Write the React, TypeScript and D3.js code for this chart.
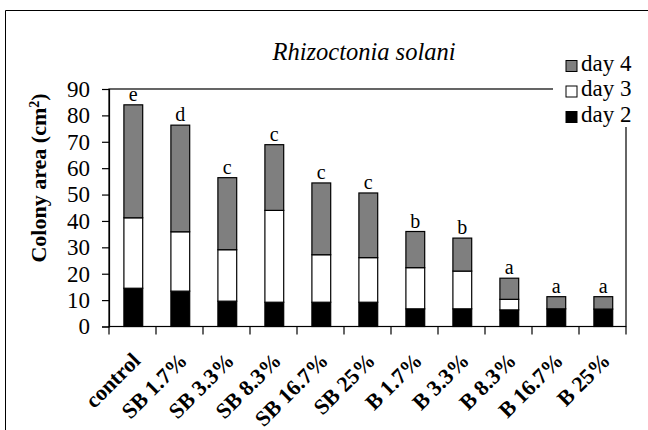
import { useEffect, useRef } from "react";
import * as d3 from "d3";

// treatments along the x axis
const categories = [
  "control",
  "SB 1.7%",
  "SB 3.3%",
  "SB 8.3%",
  "SB 16.7%",
  "SB 25%",
  "B 1.7%",
  "B 3.3%",
  "B 8.3%",
  "B 16.7%",
  "B 25%",
];

// stacked segment heights (cm²)
const day2 = [14.5, 13.4, 9.6, 9.2, 9.2, 9.2, 6.7, 6.7, 6.3, 6.7, 6.6];
const day3 = [26.7, 22.5, 19.5, 34.8, 18.0, 16.9, 15.6, 14.3, 4.0, 0, 0];
const day4 = [42.8, 40.4, 27.3, 24.9, 27.2, 24.5, 13.7, 12.5, 8.0, 4.6, 4.7];

const letters = ["e", "d", "c", "c", "c", "c", "b", "b", "a", "a", "a"];

const yTicks = [0, 10, 20, 30, 40, 50, 60, 70, 80, 90];

const seriesKeys = ["day2", "day3", "day4"];
const seriesColors: Record<string, string> = {
  day2: "#000000",
  day3: "#ffffff",
  day4: "#7f7f7f",
};
const legendItems = [
  { key: "day4", label: "day 4" },
  { key: "day3", label: "day 3" },
  { key: "day2", label: "day 2" },
];

export default function App() {
  const svgRef = useRef<SVGSVGElement>(null);

  useEffect(() => {
    if (!svgRef.current) return;
    const svg = d3.select(svgRef.current);
    svg.selectAll("*").remove();

    const width = 648;
    const height = 430;
    const font = "Liberation Serif";
    const left = 109;
    const right = 626;
    const top = 89;
    const bottom = 326.5;

    svg.attr("width", width).attr("height", height);

    // outer frame (top and left edges only are visible)
    svg
      .append("path")
      .attr("d", `M5.5,${height} V10.5 H${width}`)
      .attr("fill", "none")
      .attr("stroke", "#000")
      .attr("stroke-width", 1);

    const x = d3
      .scaleBand()
      .domain(categories)
      .range([left, right])
      .paddingInner(0.6)
      .paddingOuter(0.3);

    const y = d3.scaleLinear().domain([0, 90]).range([bottom, top]);

    const table = categories.map((c, i) => ({
      cat: c,
      day2: day2[i],
      day3: day3[i],
      day4: day4[i],
    }));
    const stacked = d3.stack<any>().keys(seriesKeys)(table);

    // plot box
    svg
      .append("rect")
      .attr("x", left)
      .attr("y", top)
      .attr("width", right - left)
      .attr("height", bottom - top)
      .attr("fill", "none")
      .attr("stroke", "#000")
      .attr("stroke-width", 1.2);

    // bars
    svg
      .append("g")
      .selectAll("g")
      .data(stacked)
      .join("g")
      .attr("fill", (s) => seriesColors[s.key])
      .selectAll("rect")
      .data((s) => s.filter((d) => d[1] - d[0] > 0))
      .join("rect")
      .attr("x", (d) => (x(d.data.cat) as number) + 0.8)
      .attr("y", (d) => y(d[1]))
      .attr("width", x.bandwidth())
      .attr("height", (d) => y(d[0]) - y(d[1]))
      .attr("stroke", "#000")
      .attr("stroke-width", 1.2);

    // significance letters
    svg
      .append("g")
      .selectAll("text")
      .data(table)
      .join("text")
      .attr("x", (d) => (x(d.cat) as number) + 0.8 + x.bandwidth() / 2)
      .attr("y", (d) => y(d.day2 + d.day3 + d.day4) - 4)
      .attr("text-anchor", "middle")
      .style("font-family", font)
      .style("font-size", "20px")
      .text((_, i) => letters[i]);

    // y axis
    const yAxis = svg
      .append("g")
      .attr("transform", `translate(${left},0)`)
      .call(d3.axisLeft(y).tickValues(yTicks).tickSize(7).tickPadding(12));
    yAxis.attr("font-family", null).attr("font-size", null);
    yAxis.select(".domain").attr("stroke-width", 1.2);
    yAxis.selectAll("line").attr("stroke-width", 1.2);
    yAxis
      .selectAll("text")
      .style("font-family", font)
      .style("font-size", "23px")
      .attr("fill", "#000");

    // x axis ticks at category boundaries
    const step = x.step();
    svg
      .append("line")
      .attr("x1", left)
      .attr("x2", right)
      .attr("y1", bottom)
      .attr("y2", bottom)
      .attr("stroke", "#000")
      .attr("stroke-width", 1.2);
    svg
      .append("g")
      .selectAll("line")
      .data(d3.range(categories.length + 1))
      .join("line")
      .attr("x1", (i) => left + i * step)
      .attr("x2", (i) => left + i * step)
      .attr("y1", bottom)
      .attr("y2", bottom + 8)
      .attr("stroke", "#000")
      .attr("stroke-width", 1.2);

    // rotated category labels
    svg
      .append("g")
      .selectAll("text")
      .data(categories)
      .join("text")
      .attr("transform", (c) => {
        const cx = (x(c) as number) + x.bandwidth() / 2 + 9;
        return `translate(${cx},362) rotate(-45)`;
      })
      .attr("text-anchor", "end")
      .style("font-family", font)
      .style("font-weight", "bold")
      .style("font-size", "22px")
      .text((c) => c);

    // y axis title
    const yTitle = svg
      .append("text")
      .attr("transform", "translate(46,178) rotate(-90)")
      .attr("text-anchor", "middle")
      .style("font-family", font)
      .style("font-weight", "bold")
      .style("font-size", "22px");
    yTitle.append("tspan").text("Colony area (cm");
    yTitle
      .append("tspan")
      .attr("baseline-shift", "super")
      .style("font-size", "14px")
      .text("2");
    yTitle.append("tspan").text(")");

    // chart title
    svg
      .append("text")
      .attr("x", 364)
      .attr("y", 60)
      .attr("text-anchor", "middle")
      .style("font-family", font)
      .style("font-style", "italic")
      .style("font-size", "24.5px")
      .text("Rhizoctonia solani");

    // legend
    const lg = svg.append("g");
    lg.append("rect")
      .attr("x", 553)
      .attr("y", 52)
      .attr("width", 95)
      .attr("height", 75)
      .attr("fill", "#fff");
    const rows = lg
      .selectAll("g")
      .data(legendItems)
      .join("g")
      .attr("transform", (_, i) => `translate(566,${60.5 + i * 25.5})`);
    rows
      .append("rect")
      .attr("width", 11)
      .attr("height", 11)
      .attr("fill", (d) => seriesColors[d.key])
      .attr("stroke", "#000")
      .attr("stroke-width", 1);
    rows
      .append("text")
      .attr("x", 15)
      .attr("y", 10)
      .style("font-family", font)
      .style("font-size", "23px")
      .text((d) => d.label);
  }, []);

  return (
    <svg
      ref={svgRef}
      style={{
        position: "absolute",
        left: 0,
        top: 0,
        background: "#fff",
        fontFamily: "Liberation Serif",
      }}
    />
  );
}
